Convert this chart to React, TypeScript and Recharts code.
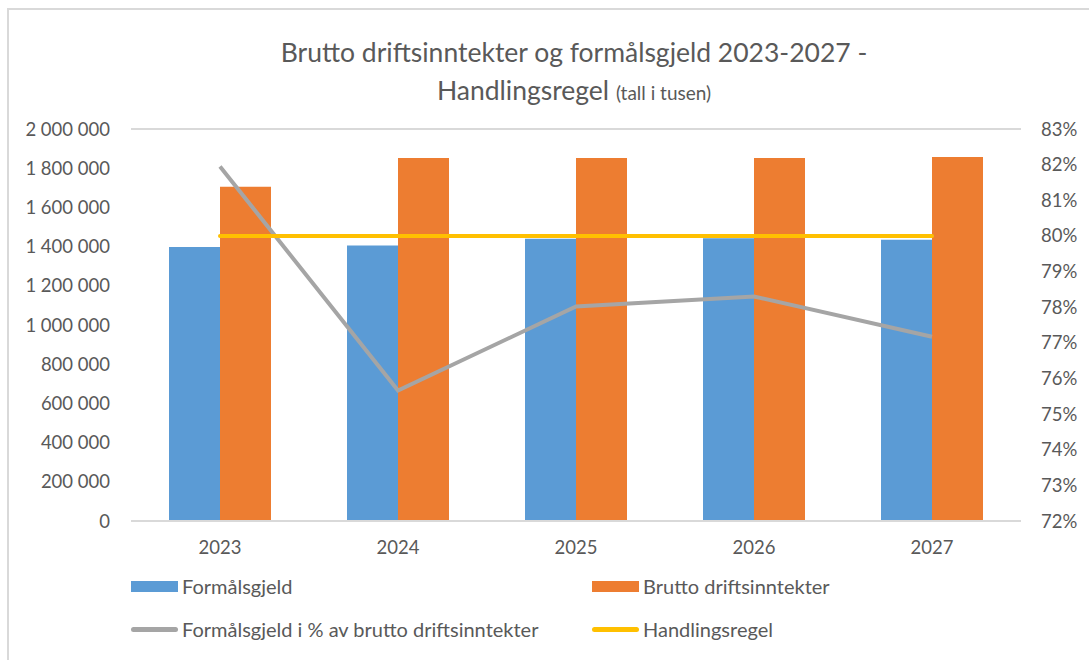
import React from "react";
import {
  Bar,
  CartesianGrid,
  ComposedChart,
  Line,
  XAxis,
  YAxis,
} from "recharts";

// Values (tall i tusen)
const YEARS = ["2023", "2024", "2025", "2026", "2027"];
const FORMALSGJELD = [1398000, 1405000, 1440000, 1443000, 1435000];
const BRUTTO_DRIFTSINNTEKTER = [1705000, 1852000, 1852000, 1852000, 1857000];
const GJELD_PROSENT = [0.8195, 0.7566, 0.7802, 0.783, 0.7717];
const HANDLINGSREGEL = [0.8, 0.8, 0.8, 0.8, 0.8];

const LEFT_TICKS = [0, 200000, 400000, 600000, 800000, 1000000, 1200000, 1400000, 1600000, 1800000, 2000000];
const RIGHT_TICKS = [0.72, 0.73, 0.74, 0.75, 0.76, 0.77, 0.78, 0.79, 0.8, 0.81, 0.82, 0.83];

const COLOURS = {
  gjeld: "#5B9BD5",
  brutto: "#ED7D31",
  prosent: "#A5A5A5",
  regel: "#FFC000",
  text: "#595959",
  grid: "#D9D9D9",
};

const FONT = "Lato, 'Open Sans', sans-serif";

const rows = YEARS.map((year, i) => ({
  year,
  gjeld: FORMALSGJELD[i],
  brutto: BRUTTO_DRIFTSINNTEKTER[i],
  prosent: GJELD_PROSENT[i],
  regel: HANDLINGSREGEL[i],
}));

// "2 000 000" — Norwegian thousands spacing
function fmtThousands(v: number): string {
  return Math.round(v)
    .toString()
    .replace(/\B(?=(\d{3})+(?!\d))/g, "\u00a0");
}

const fmtPct = (v: number) => `${Math.round(v * 100)}%`;

const LEGEND = [
  { label: "Formålsgjeld", colour: COLOURS.gjeld, kind: "box" },
  { label: "Brutto driftsinntekter", colour: COLOURS.brutto, kind: "box" },
  { label: "Formålsgjeld i % av brutto driftsinntekter", colour: COLOURS.prosent, kind: "line" },
  { label: "Handlingsregel", colour: COLOURS.regel, kind: "line" },
];

const tickStyle = { fill: COLOURS.text, fontSize: 18.5, fontFamily: FONT };

export default function App() {
  return (
    <div
      style={{
        position: "absolute",
        left: 0,
        top: 0,
        width: 1089,
        height: 660,
        background: "#fff",
        fontFamily: FONT,
        overflow: "hidden",
      }}
    >
      {/* frame — only top and left edges show in the crop */}
      <div
        style={{
          position: "absolute",
          left: 7,
          top: 8,
          width: 1100,
          height: 700,
          borderLeft: "2px solid #D9D9D9",
          borderTop: "2px solid #D9D9D9",
        }}
      />
      <div
        style={{
          position: "absolute",
          left: 0,
          width: 1148,
          top: 33,
          textAlign: "center",
          color: COLOURS.text,
          fontSize: 26.5,
          lineHeight: "38px",
        }}
      >
        <div>Brutto driftsinntekter og formålsgjeld 2023-2027 -</div>
        <div>
          Handlingsregel <span style={{ fontSize: 19 }}>(tall i tusen)</span>
        </div>
      </div>

      <div style={{ position: "absolute", left: 0, top: 0 }}>
        <ComposedChart
          width={1089}
          height={590}
          data={rows}
          margin={{ top: 129, right: 0, left: 0, bottom: 19 }}
          barGap={0}
          barSize={51}
        >
          <CartesianGrid vertical={false} stroke={COLOURS.grid} strokeWidth={2} />
          <XAxis
            dataKey="year"
            axisLine={{ stroke: COLOURS.grid, strokeWidth: 2 }}
            tickLine={false}
            tick={tickStyle}
            tickMargin={14}
            height={50}
          />
          <YAxis
            yAxisId="left"
            width={131}
            domain={[0, 2000000]}
            ticks={LEFT_TICKS}
            tickFormatter={fmtThousands}
            axisLine={false}
            tickLine={false}
            tickMargin={15}
            tick={tickStyle}
            interval={0}
          />
          <YAxis
            yAxisId="right"
            orientation="right"
            width={68}
            domain={[0.72, 0.83]}
            ticks={RIGHT_TICKS}
            tickFormatter={fmtPct}
            axisLine={false}
            tickLine={false}
            tickMargin={14}
            tick={tickStyle}
            interval={0}
          />
          <Bar yAxisId="left" dataKey="gjeld" fill={COLOURS.gjeld} isAnimationActive={false} />
          <Bar yAxisId="left" dataKey="brutto" fill={COLOURS.brutto} isAnimationActive={false} />
          <Line
            yAxisId="right"
            dataKey="prosent"
            stroke={COLOURS.prosent}
            strokeWidth={4}
            dot={false}
            type="linear"
            isAnimationActive={false}
          />
          <Line
            yAxisId="right"
            dataKey="regel"
            stroke={COLOURS.regel}
            strokeWidth={4}
            strokeLinecap="round"
            dot={false}
            type="linear"
            isAnimationActive={false}
          />
        </ComposedChart>
      </div>

      {/* legend, 2 x 2 like the Excel original */}
      <div
        style={{
          position: "absolute",
          left: 131,
          top: 573,
          width: 900,
          display: "grid",
          gridTemplateColumns: "461px 400px",
          rowGap: 17,
          color: COLOURS.text,
          fontSize: 20,
        }}
      >
        {LEGEND.map((item) => (
          <div key={item.label} style={{ display: "flex", alignItems: "center", height: 26 }}>
            <span
              style={{
                display: "inline-block",
                width: 47,
                height: item.kind === "box" ? 11 : 5,
                borderRadius: item.kind === "box" ? 0 : 3,
                background: item.colour,
                marginRight: 4,
              }}
            />
            {item.label}
          </div>
        ))}
      </div>
    </div>
  );
}
